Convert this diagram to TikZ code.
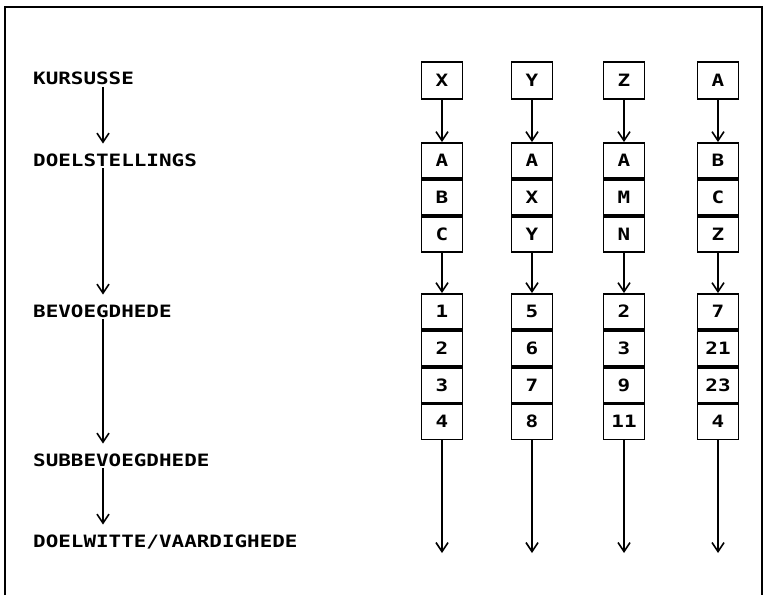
\documentclass[tikz,border=0pt]{standalone}
\usepackage{fontspec}
\usepackage{tikz}
\usetikzlibrary{positioning, arrows.meta}
\newfontfamily\dotfam[FakeStretch=1.23]{DejaVu Sans Mono}
\newcommand{\dotfont}{\dotfam\bfseries\fontsize{17}{17}\selectfont}
\tikzset{
  lbl/.style={anchor=west, inner sep=0pt, text height=12.5pt, text depth=0pt, font=\dotfont},
  cell/.style={rectangle, draw, line width=1.8pt, minimum width=41pt, minimum height=35pt,
    inner sep=0pt, text height=12pt, text depth=0pt, font=\dotfont},
  course/.style={cell, minimum height=37pt},
  flow/.style={-{Straight Barb[length=9pt, width=12pt]}, line width=1.6pt},
  lflow/.style={flow, shorten <=2pt, shorten >=10pt},
}

\begin{document}
\begin{tikzpicture}[x=1pt, y=-1pt, node distance=0pt]
    \useasboundingbox (0,0) rectangle (766,595);
    \draw[line width=2pt] (5,595) -- (5,7) -- (762,7) -- (762,595);
    % levels on the left
    \node[lbl] (kurs) at (33,78.5) {KURSUSSE};
    \node[lbl] (doel) at (33,160) {DOELSTELLINGS};
    \node[lbl] (bev) at (33,311) {BEVOEGDHEDE};
    \node[lbl] (subbev) at (33,460) {SUBBEVOEGDHEDE};
    \node[lbl] (dv) at (33,541) {DOELWITTE/VAARDIGHEDE};
    \coordinate (ax) at (103,0);
    \draw[lflow] (kurs.south -| ax) -- (doel.north -| ax);
    \draw[lflow] (doel.south -| ax) -- (bev.north -| ax);
    \draw[lflow] (bev.south -| ax) -- (subbev.north -| ax);
    \draw[lflow] (subbev.south -| ax) -- (dv.north -| ax);
    % course X
    \node[course] (c1k) at (442,80.5) {X};
    \node[cell] (c1d1) at (442,160.5) {A};
    \node[cell, below=of c1d1] (c1d2) {B};
    \node[cell, below=of c1d2] (c1d3) {C};
    \node[cell] (c1b1) at (442,311.5) {1};
    \node[cell, below=of c1b1] (c1b2) {2};
    \node[cell, below=of c1b2] (c1b3) {3};
    \node[cell, below=of c1b3] (c1b4) {4};
    \coordinate (c1e) at (442,553);
    \draw[flow] (c1k) -- (c1d1); \draw[flow] (c1d3) -- (c1b1); \draw[flow] (c1b4) -- (c1e);
    % course Y
    \node[course] (c2k) at (532,80.5) {Y};
    \node[cell] (c2d1) at (532,160.5) {A};
    \node[cell, below=of c2d1] (c2d2) {X};
    \node[cell, below=of c2d2] (c2d3) {Y};
    \node[cell] (c2b1) at (532,311.5) {5};
    \node[cell, below=of c2b1] (c2b2) {6};
    \node[cell, below=of c2b2] (c2b3) {7};
    \node[cell, below=of c2b3] (c2b4) {8};
    \coordinate (c2e) at (532,553);
    \draw[flow] (c2k) -- (c2d1); \draw[flow] (c2d3) -- (c2b1); \draw[flow] (c2b4) -- (c2e);
    % course Z
    \node[course] (c3k) at (624,80.5) {Z};
    \node[cell] (c3d1) at (624,160.5) {A};
    \node[cell, below=of c3d1] (c3d2) {M};
    \node[cell, below=of c3d2] (c3d3) {N};
    \node[cell] (c3b1) at (624,311.5) {2};
    \node[cell, below=of c3b1] (c3b2) {3};
    \node[cell, below=of c3b2] (c3b3) {9};
    \node[cell, below=of c3b3] (c3b4) {11};
    \coordinate (c3e) at (624,553);
    \draw[flow] (c3k) -- (c3d1); \draw[flow] (c3d3) -- (c3b1); \draw[flow] (c3b4) -- (c3e);
    % course A
    \node[course] (c4k) at (718,80.5) {A};
    \node[cell] (c4d1) at (718,160.5) {B};
    \node[cell, below=of c4d1] (c4d2) {C};
    \node[cell, below=of c4d2] (c4d3) {Z};
    \node[cell] (c4b1) at (718,311.5) {7};
    \node[cell, below=of c4b1] (c4b2) {21};
    \node[cell, below=of c4b2] (c4b3) {23};
    \node[cell, below=of c4b3] (c4b4) {4};
    \coordinate (c4e) at (718,553);
    \draw[flow] (c4k) -- (c4d1); \draw[flow] (c4d3) -- (c4b1); \draw[flow] (c4b4) -- (c4e);
\end{tikzpicture}
\end{document}
